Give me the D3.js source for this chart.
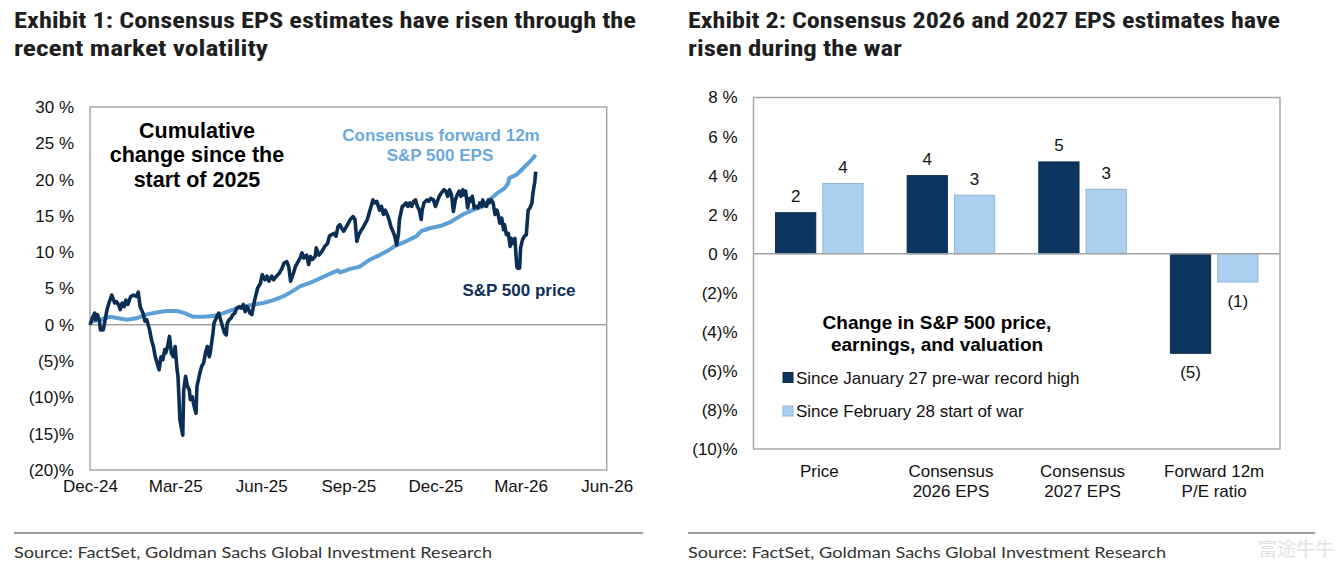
<!DOCTYPE html>
<html>
<head>
<meta charset="utf-8">
<script src="https://cdn.jsdelivr.net/npm/d3@7"></script>
<style>
  body { margin: 0; background: #fff; }
  svg text { font-family: "Liberation Sans", Arial, sans-serif; }
</style>
</head>
<body>
<div id="chart"></div>
<script>
// ---- Exhibit 1 data: cumulative % change since start of 2025 ----
const sp500Price = [
  ["2024-12-31",0.0],["2025-01-03",1.1],["2025-01-05",1.6],["2025-01-06",0.7],["2025-01-08",1.4],["2025-01-10",0.5],
  ["2025-01-11",-0.7],["2025-01-14",-0.7],["2025-01-16",0.7],["2025-01-18",2.1],["2025-01-20",3.0],["2025-01-23",4.1],
  ["2025-01-25",3.4],["2025-01-26",3.0],["2025-01-28",3.2],["2025-01-30",2.8],["2025-02-01",2.1],["2025-02-03",3.0],
  ["2025-02-05",2.5],["2025-02-07",3.4],["2025-02-09",2.8],["2025-02-12",3.9],["2025-02-15",4.1],["2025-02-18",3.9],
  ["2025-02-20",4.5],["2025-02-22",2.5],["2025-02-25",1.6],["2025-02-27",0.5],["2025-03-01",0.7],["2025-03-04",-0.7],
  ["2025-03-06",-2.1],["2025-03-08",-3.0],["2025-03-10",-4.4],["2025-03-12",-5.3],["2025-03-14",-6.2],["2025-03-16",-4.4],
  ["2025-03-18",-4.8],["2025-03-20",-3.4],["2025-03-21",-3.9],["2025-03-23",-3.0],["2025-03-25",-1.6],["2025-03-27",-3.9],
  ["2025-03-29",-4.4],["2025-03-31",-3.0],["2025-04-02",-6.2],["2025-04-03",-7.1],["2025-04-05",-13.1],["2025-04-07",-14.5],
  ["2025-04-08",-15.2],["2025-04-09",-9.0],["2025-04-11",-7.1],["2025-04-13",-8.5],["2025-04-15",-9.0],["2025-04-16",-10.3],
  ["2025-04-18",-9.9],["2025-04-20",-11.2],["2025-04-22",-12.2],["2025-04-23",-8.5],["2025-04-26",-6.7],["2025-04-28",-5.7],
  ["2025-04-30",-5.3],["2025-05-02",-3.9],["2025-05-04",-3.0],["2025-05-06",-4.4],["2025-05-07",-3.9],["2025-05-10",-1.1],
  ["2025-05-11",0.2],["2025-05-14",1.1],["2025-05-16",1.6],["2025-05-18",0.7],["2025-05-20",-0.2],["2025-05-22",-1.1],
  ["2025-05-24",-1.4],["2025-05-25",0.2],["2025-05-27",0.7],["2025-05-29",0.9],["2025-05-31",1.4],["2025-06-02",1.6],
  ["2025-06-04",2.3],["2025-06-07",2.5],["2025-06-09",2.3],["2025-06-11",2.8],["2025-06-13",1.8],["2025-06-15",2.5],
  ["2025-06-16",2.3],["2025-06-18",1.6],["2025-06-20",1.4],["2025-06-23",3.4],["2025-06-26",5.0],["2025-06-29",5.7],
  ["2025-07-01",6.9],["2025-07-04",6.2],["2025-07-06",6.7],["2025-07-08",6.0],["2025-07-11",6.7],["2025-07-13",6.2],
  ["2025-07-16",6.7],["2025-07-19",7.1],["2025-07-22",7.8],["2025-07-24",8.5],["2025-07-27",8.7],["2025-07-29",8.0],
  ["2025-07-31",6.0],["2025-08-03",7.1],["2025-08-05",8.0],["2025-08-07",8.5],["2025-08-10",9.2],["2025-08-12",9.9],
  ["2025-08-14",9.2],["2025-08-17",9.6],["2025-08-19",8.3],["2025-08-21",9.4],["2025-08-23",9.0],["2025-08-26",9.4],
  ["2025-08-27",10.6],["2025-08-30",9.6],["2025-09-01",9.9],["2025-09-03",10.3],["2025-09-05",10.8],["2025-09-08",11.2],
  ["2025-09-10",12.2],["2025-09-12",12.4],["2025-09-15",12.6],["2025-09-17",12.2],["2025-09-19",13.5],["2025-09-21",13.8],
  ["2025-09-23",13.3],["2025-09-25",12.9],["2025-09-27",13.3],["2025-09-30",14.0],["2025-10-02",14.5],["2025-10-05",14.9],
  ["2025-10-07",14.5],["2025-10-09",11.5],["2025-10-11",12.4],["2025-10-14",13.1],["2025-10-16",13.5],["2025-10-18",14.0],
  ["2025-10-20",14.5],["2025-10-22",15.4],["2025-10-24",16.3],["2025-10-26",17.2],["2025-10-28",16.8],["2025-10-30",17.0],
  ["2025-11-02",15.8],["2025-11-04",16.3],["2025-11-06",15.2],["2025-11-08",15.8],["2025-11-10",15.2],["2025-11-12",14.5],
  ["2025-11-14",13.5],["2025-11-16",12.9],["2025-11-18",12.2],["2025-11-20",11.0],["2025-11-22",12.6],["2025-11-23",14.5],
  ["2025-11-26",16.3],["2025-11-28",16.5],["2025-11-30",16.8],["2025-12-02",16.3],["2025-12-04",16.8],["2025-12-06",16.3],
  ["2025-12-08",17.0],["2025-12-10",17.2],["2025-12-12",16.3],["2025-12-14",15.8],["2025-12-16",14.5],["2025-12-17",15.8],
  ["2025-12-19",16.8],["2025-12-22",17.2],["2025-12-24",17.0],["2025-12-26",17.4],["2025-12-29",17.2],["2025-12-31",16.3],
  ["2026-01-02",17.0],["2026-01-04",17.7],["2026-01-06",18.1],["2026-01-09",18.6],["2026-01-11",18.4],["2026-01-13",17.7],
  ["2026-01-15",18.6],["2026-01-17",17.9],["2026-01-19",15.6],["2026-01-21",17.2],["2026-01-23",17.9],["2026-01-25",18.4],
  ["2026-01-27",17.7],["2026-01-29",18.6],["2026-01-30",17.9],["2026-02-01",18.4],["2026-02-03",16.1],["2026-02-05",17.4],
  ["2026-02-06",17.0],["2026-02-08",17.7],["2026-02-10",16.1],["2026-02-12",16.3],["2026-02-14",16.1],["2026-02-16",16.8],
  ["2026-02-18",16.3],["2026-02-19",17.2],["2026-02-21",16.5],["2026-02-23",16.3],["2026-02-25",17.2],["2026-02-26",16.8],
  ["2026-02-28",17.2],["2026-03-02",16.8],["2026-03-04",15.2],["2026-03-06",15.8],["2026-03-07",15.4],["2026-03-09",14.0],
  ["2026-03-11",14.7],["2026-03-13",13.1],["2026-03-14",13.8],["2026-03-16",12.4],["2026-03-18",12.6],["2026-03-20",10.8],
  ["2026-03-21",11.9],["2026-03-23",11.2],["2026-03-25",11.9],["2026-03-27",8.0],["2026-03-28",7.8],["2026-03-30",7.8],
  ["2026-03-31",10.6],["2026-04-02",11.7],["2026-04-04",12.2],["2026-04-06",12.4],["2026-04-08",15.8],["2026-04-10",16.1],
  ["2026-04-12",16.8],["2026-04-13",18.1],["2026-04-15",19.7],["2026-04-16",21.1]
];

const fwdEps = [
  ["2025-01-02",0.5],["2025-01-11",0.7],["2025-01-21",1.1],["2025-01-30",0.9],["2025-02-08",0.7],["2025-02-18",0.9],
  ["2025-02-28",1.4],["2025-03-11",1.7],["2025-03-22",1.9],["2025-04-02",1.9],["2025-04-10",1.6],["2025-04-19",1.1],
  ["2025-04-30",1.1],["2025-05-10",1.2],["2025-05-21",1.6],["2025-05-31",2.1],["2025-06-11",2.5],["2025-06-22",2.8],
  ["2025-07-02",3.0],["2025-07-13",3.4],["2025-07-23",3.9],["2025-07-30",4.4],["2025-08-10",5.3],["2025-08-21",5.8],
  ["2025-08-31",6.4],["2025-09-10",7.0],["2025-09-19",7.5],["2025-09-21",7.2],["2025-10-02",7.7],["2025-10-12",8.0],
  ["2025-10-23",9.0],["2025-11-02",9.6],["2025-11-12",10.3],["2025-11-19",10.9],["2025-11-30",11.5],["2025-12-11",12.2],
  ["2025-12-16",12.9],["2025-12-25",13.3],["2026-01-05",13.6],["2026-01-15",14.1],["2026-01-29",15.2],["2026-02-08",15.8],
  ["2026-02-19",16.3],["2026-02-26",17.2],["2026-03-06",18.1],["2026-03-14",18.8],["2026-03-18",19.5],["2026-03-19",20.2],
  ["2026-03-27",20.7],["2026-04-03",21.6],["2026-04-10",22.5],["2026-04-16",23.4]
];

const dateTicks = ["2024-12-31","2025-03-31","2025-06-30","2025-09-30","2025-12-31","2026-03-31","2026-06-30"];
const lineYTicks = [30, 25, 20, 15, 10, 5, 0, -5, -10, -15, -20];

// ---- Exhibit 2 data: % change ----
const barCategories = [["Price"], ["Consensus", "2026 EPS"], ["Consensus", "2027 EPS"], ["Forward 12m", "P/E ratio"]];
const sinceRecordHigh = [2.1, 4.0, 4.7, -5.1];
const sinceWarStart = [3.6, 3.0, 3.3, -1.45];
const seriesNames = ["Since January 27 pre-war record high", "Since February 28 start of war"];
const barYTicks = [8, 6, 4, 2, 0, -2, -4, -6, -8, -10];

const navy = "#0b2e55", lightBlue = "#5e9fd6";
const barDark = "#0c355f", barLight = "#abcfee";
const grey = "#a3a3a3";

const pct = v => v < 0 ? "(" + (-v) + ")%" : v + " %";
const valLabel = v => { const r = Math.round(Math.abs(v)); return v < 0 ? "(" + r + ")" : "" + r; };
const parse = d3.timeParse("%Y-%m-%d");

const svg = d3.select("#chart").append("svg")
  .attr("width", 1339).attr("height", 575);
svg.append("rect").attr("width", 1339).attr("height", 575).attr("fill", "#fff");

const titleFont = '"Roboto Condensed", "DejaVu Sans Condensed", "Liberation Sans Narrow", "Lato", sans-serif';
function title(x, y, txt, len) {
  svg.append("text").attr("x", x).attr("y", y).text(txt)
    .style("font-family", titleFont).style("font-weight", 700).style("font-size", "22.5px")
    .attr("fill", "#1e1e1e").attr("textLength", len).attr("lengthAdjust", "spacingAndGlyphs");
}
title(14, 28, "Exhibit 1: Consensus EPS estimates have risen through the", 622);
title(14, 56, "recent market volatility", 254);
title(688, 28, "Exhibit 2: Consensus 2026 and 2027 EPS estimates have", 592);
title(688, 56, "risen during the war", 214);

// footers
[[14, 643], [688, 1315]].forEach(function (r) {
  svg.append("line").attr("x1", r[0]).attr("x2", r[1]).attr("y1", 533).attr("y2", 533)
    .attr("stroke", "#9c9c9c").attr("stroke-width", 2);
  svg.append("text").attr("x", r[0]).attr("y", 558)
    .text("Source: FactSet, Goldman Sachs Global Investment Research")
    .style("font-family", '"Lato", "Liberation Sans", sans-serif').style("font-size", "16px")
    .attr("fill", "#333").attr("textLength", 478).attr("lengthAdjust", "spacingAndGlyphs");
});
svg.append("text").attr("x", 1258).attr("y", 556).text("富途牛牛")
  .style("font-family", '"Noto Sans CJK SC", sans-serif').style("font-size", "19px")
  .attr("fill", "#e3e3e3");

// ================= Exhibit 1 =================
const x = d3.scaleTime().domain([parse("2024-12-31"), parse("2026-06-30")]).range([90, 606.7]);
const y = d3.scaleLinear().domain([-20, 30]).range([470, 107]);

const g1 = svg.append("g");
g1.append("rect").attr("x", 90).attr("y", 107).attr("width", 606.7 - 90).attr("height", 470 - 107)
  .attr("fill", "none").attr("stroke", grey).attr("stroke-width", 1.4);
g1.append("line").attr("x1", 90).attr("x2", 606.7).attr("y1", y(0)).attr("y2", y(0))
  .attr("stroke", grey).attr("stroke-width", 1.4);

g1.append("g").attr("transform", "translate(74,0)")
  .call(d3.axisLeft(y).tickValues(lineYTicks).tickFormat(pct).tickSize(0).tickPadding(0))
  .call(a => a.select(".domain").remove())
  .selectAll("text").style("font-size", "17px").attr("fill", "#111");

g1.append("g").attr("transform", "translate(0,480)")
  .call(d3.axisBottom(x).tickValues(dateTicks.map(parse)).tickFormat(d3.timeFormat("%b-%y")).tickSize(0).tickPadding(0))
  .call(a => a.select(".domain").remove())
  .selectAll("text").style("font-size", "17px").attr("fill", "#111");

const line = d3.line().x(d => x(parse(d[0]))).y(d => y(d[1]));
g1.append("path").datum(fwdEps).attr("d", line).attr("fill", "none")
  .attr("stroke", lightBlue).attr("stroke-width", 4).attr("stroke-linejoin", "round");
g1.append("path").datum(sp500Price).attr("d", line).attr("fill", "none")
  .attr("stroke", navy).attr("stroke-width", 3.6).attr("stroke-linejoin", "round");

const note = g1.append("text").attr("text-anchor", "middle")
  .style("font-weight", 700).style("font-size", "21.5px").attr("fill", "#000");
["Cumulative", "change since the", "start of 2025"].forEach(function (t, i) {
  note.append("tspan").attr("x", 197).attr("y", 137.5 + i * 24.5).text(t);
});
const epsLab = g1.append("text").attr("text-anchor", "middle")
  .style("font-weight", 700).style("font-size", "17px").attr("fill", "#6aa9de");
epsLab.append("tspan").attr("x", 441).attr("y", 141).text("Consensus forward 12m");
epsLab.append("tspan").attr("x", 440).attr("y", 161).text("S&P 500 EPS");
g1.append("text").attr("x", 519).attr("y", 296).attr("text-anchor", "middle")
  .style("font-weight", 700).style("font-size", "17px").attr("fill", "#0d2f57").text("S&P 500 price");

// ================= Exhibit 2 =================
const bx0 = 753.5, bx1 = 1280, by0 = 97.5, by1 = 449;
const yb = d3.scaleLinear().domain([-10, 8]).range([by1, by0]);
const x0 = d3.scaleBand().domain(d3.range(barCategories.length)).range([bx0, bx1])
  .paddingInner(0.335).paddingOuter(0.1675);
const x1 = d3.scaleBand().domain([0, 1]).range([0, x0.bandwidth()]).paddingInner(0.15);

const g2 = svg.append("g");
g2.append("rect").attr("x", bx0).attr("y", by0).attr("width", bx1 - bx0).attr("height", by1 - by0)
  .attr("fill", "none").attr("stroke", grey).attr("stroke-width", 1.4);

g2.append("g").attr("transform", "translate(737.6,0)")
  .call(d3.axisLeft(yb).tickValues(barYTicks).tickFormat(pct).tickSize(0).tickPadding(0))
  .call(a => a.select(".domain").remove())
  .selectAll("text").style("font-size", "17px").attr("fill", "#111");

const series = [sinceRecordHigh, sinceWarStart];
const fills = [barDark, barLight], strokes = ["#0a2c50", "#8db6dc"];
series.forEach(function (vals, s) {
  g2.selectAll(".bar" + s).data(vals).enter().append("rect")
    .attr("x", (d, i) => x0(i) + x1(s))
    .attr("width", x1.bandwidth())
    .attr("y", d => yb(Math.max(0, d)))
    .attr("height", d => Math.abs(yb(d) - yb(0)))
    .attr("fill", fills[s]).attr("stroke", strokes[s]).attr("stroke-width", 1);
  g2.selectAll(".lab" + s).data(vals).enter().append("text")
    .attr("x", (d, i) => x0(i) + x1(s) + x1.bandwidth() / 2)
    .attr("y", d => d >= 0 ? yb(d) - 10.5 : yb(d) + 25)
    .attr("text-anchor", "middle").style("font-size", "17px").attr("fill", "#111")
    .text(valLabel);
});

g2.append("line").attr("x1", bx0).attr("x2", bx1).attr("y1", yb(0)).attr("y2", yb(0))
  .attr("stroke", grey).attr("stroke-width", 1.4);

barCategories.forEach(function (lines, i) {
  const t = g2.append("text").attr("text-anchor", "middle").style("font-size", "17px").attr("fill", "#111");
  lines.forEach(function (l, j) {
    t.append("tspan").attr("x", x0(i) + x0.bandwidth() / 2).attr("y", 477 + j * 20).text(l);
  });
});

const ann = g2.append("text").attr("text-anchor", "middle")
  .style("font-weight", 700).style("font-size", "19px").attr("fill", "#000");
ann.append("tspan").attr("x", 937).attr("y", 328.5).text("Change in S&P 500 price,");
ann.append("tspan").attr("x", 937).attr("y", 351).text("earnings, and valuation");

seriesNames.forEach(function (n, i) {
  const cy = 377.5 + i * 33.5;
  g2.append("rect").attr("x", 783).attr("y", cy - 5).attr("width", 10).attr("height", 10)
    .attr("fill", fills[i]).attr("stroke", strokes[i]).attr("stroke-width", 1);
  g2.append("text").attr("x", 796).attr("y", cy + 6).style("font-size", "17px").attr("fill", "#111").text(n);
});
</script>
</body>
</html>
